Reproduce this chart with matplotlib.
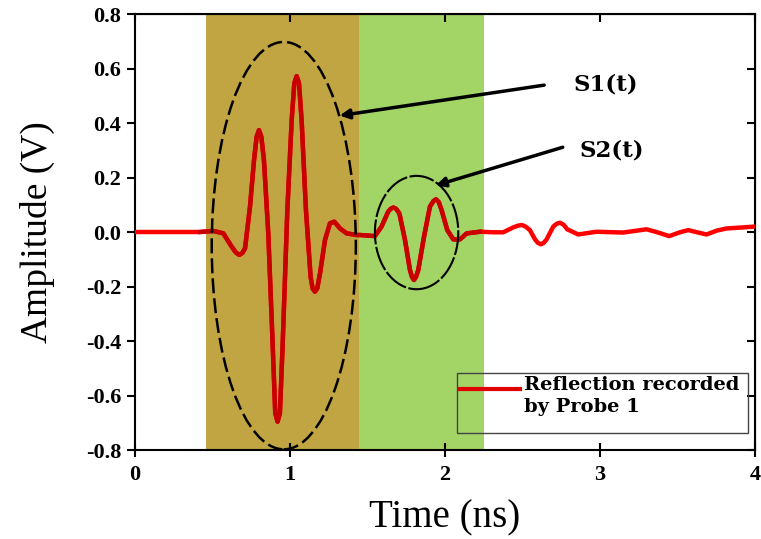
import matplotlib
matplotlib.use("Agg")
import matplotlib.pyplot as plt
import numpy as np
from matplotlib.patches import Ellipse, Rectangle
from matplotlib.lines import Line2D

# waveform (time in ns, amplitude in V)
time_ns = [0.00, 0.419, 0.505, 0.57, 0.624, 0.652, 0.673, 0.694, 0.71, 0.742,
           0.768, 0.785, 0.800, 0.815, 0.832, 0.860, 0.888, 0.905, 0.920, 0.935,
           0.953, 0.983, 1.011, 1.028, 1.043, 1.058, 1.075, 1.103, 1.133, 1.146,
           1.161, 1.176, 1.194, 1.226, 1.258, 1.286, 1.323, 1.366, 1.430, 1.452,
           1.548, 1.591, 1.634, 1.650, 1.667, 1.685, 1.706, 1.742, 1.774, 1.787,
           1.800, 1.813, 1.828, 1.865, 1.903, 1.925, 1.942, 1.960, 1.978, 2.015,
           2.054, 2.097, 2.140, 2.226, 2.312, 2.376, 2.441, 2.470, 2.495, 2.520,
           2.548, 2.581, 2.600, 2.619, 2.637, 2.656, 2.699, 2.720, 2.742, 2.765,
           2.789, 2.860, 2.978, 3.150, 3.301, 3.376, 3.447, 3.516, 3.570, 3.634,
           3.688, 3.753, 3.817, 3.925, 4.000]
amplitude = [0.000, 0.000, 0.004, -0.005, -0.054, -0.076, -0.084, -0.076, -0.060, 0.093,
             0.264, 0.350, 0.374, 0.350, 0.264, -0.005, -0.409, -0.665, -0.696, -0.665,
             -0.409, 0.081, 0.411, 0.546, 0.572, 0.546, 0.411, 0.081, -0.164, -0.207,
             -0.219, -0.207, -0.151, -0.029, 0.032, 0.038, 0.013, -0.005, -0.011, -0.011,
             -0.015, 0.020, 0.075, 0.085, 0.090, 0.085, 0.068, -0.029, -0.139, -0.165,
             -0.176, -0.165, -0.139, -0.017, 0.093, 0.113, 0.120, 0.110, 0.081, 0.007,
             -0.027, -0.027, -0.005, 0.001, -0.001, -0.001, 0.017, 0.023, 0.026, 0.020,
             0.007, -0.027, -0.040, -0.045, -0.040, -0.027, 0.020, 0.030, 0.034, 0.027,
             0.010, -0.009, 0.001, -0.002, 0.010, -0.002, -0.015, -0.001, 0.007, -0.002,
             -0.009, 0.005, 0.013, 0.017, 0.020]

# shaded time windows
s1_window = (0.455, 1.447)
s2_window = (1.447, 2.253)

# dashed ellipses (centre t, centre V, width, height)
s1_ellipse = (0.96, -0.05, 0.93, 1.495)
s2_ellipse = (1.817, -0.002, 0.538, 0.416)

y_ticks = [-0.8, -0.6, -0.4, -0.2, 0.0, 0.2, 0.4, 0.6, 0.8]
x_ticks = [0, 1, 2, 3, 4]

serif = "Liberation Serif"

fig = plt.figure(figsize=(7.61, 5.39), dpi=100)
ax = fig.add_axes([0.1774, 0.1651, 0.8146, 0.8089])

ax.axvspan(*s1_window, color="#C1A542", lw=0, zorder=0)
ax.axvspan(*s2_window, color="#A2D466", lw=0, zorder=0)

t = np.array(time_ns)
v = np.array(amplitude)
ax.plot(t, v, color="#FF0000", lw=3.2, solid_joinstyle="round", zorder=3)
inside = (t >= s1_window[0] - 0.05) & (t <= s2_window[1] + 0.05)
ax.plot(t[inside], v[inside], color="#C80000", lw=3.2, solid_joinstyle="round", zorder=3)

cx, cy, w, h = s1_ellipse
ax.add_patch(Ellipse((cx, cy), w, h, fill=False, ec="black", lw=1.8,
                     ls=(0, (6, 2)), zorder=4))
cx, cy, w, h = s2_ellipse
ax.add_patch(Ellipse((cx, cy), w, h, fill=False, ec="black", lw=1.5,
                     ls=(0, (12, 1.2)), zorder=4))

arrow = dict(arrowstyle="-|>", color="black", lw=2.5, mutation_scale=14,
             shrinkA=0, shrinkB=0)
ax.annotate("", xy=(1.32, 0.427), xytext=(2.64, 0.539), arrowprops=arrow, zorder=5)
ax.annotate("", xy=(1.94, 0.171), xytext=(2.76, 0.311), arrowprops=arrow, zorder=5)
ax.text(2.83, 0.54, "S1(t)", fontsize=16.5, family="DejaVu Serif", fontweight="bold",
        va="center", ha="left")
ax.text(2.87, 0.30, "S2(t)", fontsize=16.5, family="DejaVu Serif", fontweight="bold",
        va="center", ha="left")

# legend box drawn by hand so the line sits next to the first text line
ax.add_patch(Rectangle((0.519, 0.039), 0.470, 0.138, transform=ax.transAxes,
                       fill=False, ec="#444444", lw=1.0, zorder=6))
ax.add_line(Line2D([0.524, 0.621], [0.140, 0.140], transform=ax.transAxes,
                   color="#E00000", lw=3, zorder=6))
ax.text(0.627, 0.170, "Reflection recorded\nby Probe 1", transform=ax.transAxes,
        fontsize=14, family="DejaVu Serif", fontweight="bold", va="top",
        ha="left", linespacing=1.3, zorder=6)

ax.set_xlim(0, 4)
ax.set_ylim(-0.8, 0.8)
ax.set_xticks(x_ticks)
ax.set_yticks(y_ticks)
ax.set_yticklabels([f"{y:.1f}" for y in y_ticks])
ax.set_xlabel("Time (ns)", fontsize=28, family=serif, labelpad=10)
ax.set_ylabel("Amplitude (V)", fontsize=27, family=serif, labelpad=22)

for lab in ax.get_xticklabels() + ax.get_yticklabels():
    lab.set_family(serif)
    lab.set_fontweight("bold")
    lab.set_fontsize(16)

for sp in ax.spines.values():
    sp.set_linewidth(1.5)
ax.tick_params(axis="x", which="major", direction="inout", length=10, width=1.5,
               top=False, pad=6)
ax.tick_params(axis="y", which="major", direction="out", length=6, width=1.5,
               right=False, pad=4)
# mirrored inward ticks on top and right
top = ax.secondary_xaxis("top")
top.set_xticks(x_ticks)
top.tick_params(direction="in", length=6, width=1.5, labeltop=False)
right = ax.secondary_yaxis("right")
right.set_yticks(y_ticks)
right.tick_params(direction="in", length=6, width=1.5, labelright=False)

fig.savefig("out.png", dpi=100)
